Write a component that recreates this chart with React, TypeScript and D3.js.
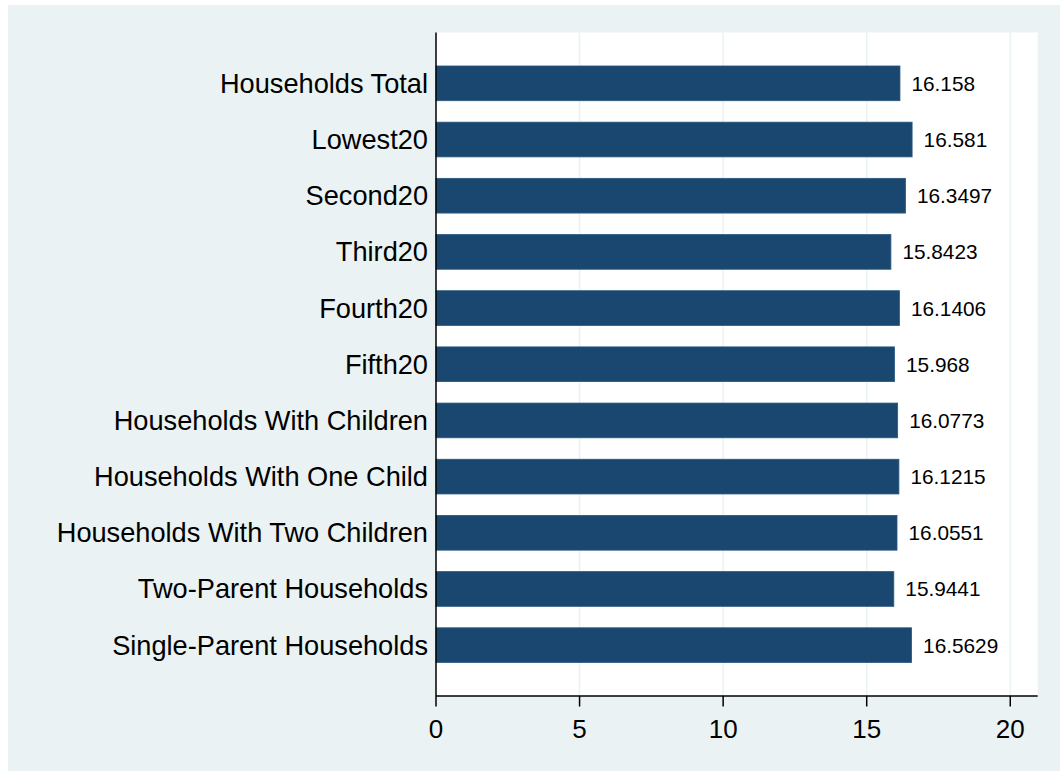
import React from "react";
import * as d3 from "d3";

const categories = [
  "Households Total",
  "Lowest20",
  "Second20",
  "Third20",
  "Fourth20",
  "Fifth20",
  "Households With Children",
  "Households With One Child",
  "Households With Two Children",
  "Two-Parent Households",
  "Single-Parent Households",
];
const values = [16.158, 16.581, 16.3497, 15.8423, 16.1406, 15.968, 16.0773, 16.1215, 16.0551, 15.9441, 16.5629];
const valueLabels = ["16.158", "16.581", "16.3497", "15.8423", "16.1406", "15.968", "16.0773", "16.1215", "16.0551", "15.9441", "16.5629"];
const xTicks = [0, 5, 10, 15, 20];

export default function App() {
  const W = 1052;
  const H = 766;
  const left = 428;
  const right = 1029.7;
  const top = 27.5;
  const bottom = 691;
  const x = d3.scaleLinear().domain([0, 20.955]).range([left, right]);
  const y = d3.scaleBand<string>().domain(categories).range([top, bottom]).paddingInner(0.382).paddingOuter(0.596);
  const font = "'Liberation Sans', Arial, sans-serif";
  return (
    <svg width={W} height={H} style={{ position: "absolute", left: 8, top: 5, display: "block" }}>
      <rect x={0} y={0} width={W} height={H} fill="#eaf2f3" />
      <rect x={left} y={top} width={right - left} height={bottom - top} fill="#ffffff" />
      {xTicks.filter((t) => t > 0).map((t) => (
        <line key={"g" + t} x1={x(t)} x2={x(t)} y1={top} y2={bottom} stroke="#eaf2f3" strokeWidth={1.5} />
      ))}
      {categories.map((c, i) => (
        <g key={c}>
          <rect x={x(0)} y={y(c)!} width={x(values[i]) - x(0)} height={y.bandwidth()} fill="#1a476f" stroke="#2a5780" strokeWidth={0.8} />
          <text x={x(values[i]) + 11.5} y={y(c)! + y.bandwidth() / 2} dominantBaseline="central" fontFamily={font} fontSize={20.8} fill="#000">
            {valueLabels[i]}
          </text>
          <text x={left - 8} y={y(c)! + y.bandwidth() / 2} dominantBaseline="central" textAnchor="end" fontFamily={font} fontSize={27.2} fill="#000">
            {c}
          </text>
        </g>
      ))}
      <line x1={left} x2={left} y1={top} y2={bottom} stroke="#000" strokeWidth={1.5} />
      <line x1={left} x2={right} y1={bottom} y2={bottom} stroke="#000" strokeWidth={1.5} />
      {xTicks.map((t) => (
        <g key={"t" + t}>
          <line x1={x(t)} x2={x(t)} y1={bottom} y2={bottom + 10.5} stroke="#000" strokeWidth={1.5} />
          <text x={x(t)} y={bottom + 41.5} textAnchor="middle" fontFamily={font} fontSize={26} fill="#000">
            {t}
          </text>
        </g>
      ))}
    </svg>
  );
}
